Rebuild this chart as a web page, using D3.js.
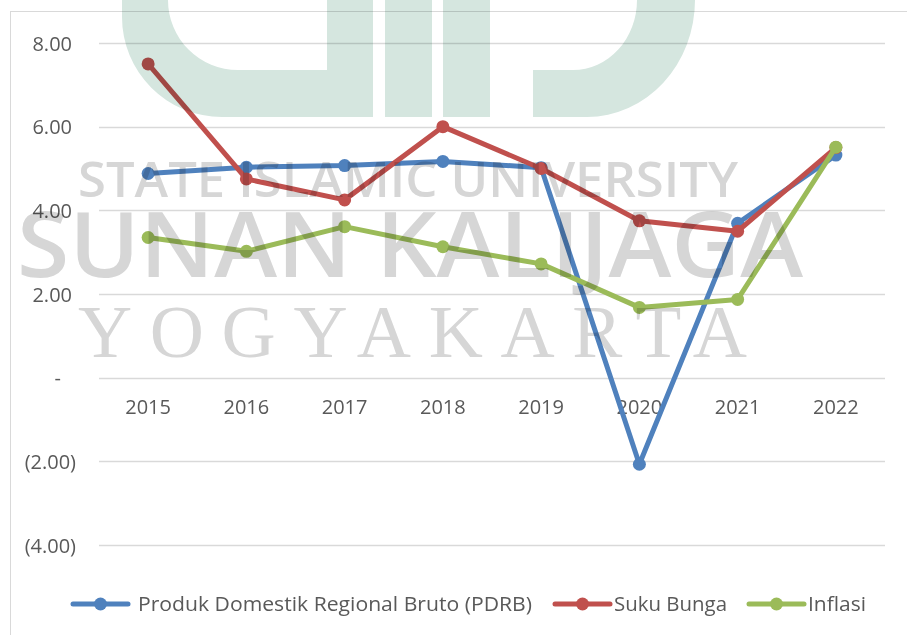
<!DOCTYPE html>
<html>
<head>
<meta charset="utf-8">
<script src="https://cdn.jsdelivr.net/npm/d3@7"></script>
<style>
  body { margin: 0; background: #fff; }
  svg { display: block; }
  .tick text { fill: #595959; font-family: "Open Sans", sans-serif; font-size: 20px; }
  .wm { mix-blend-mode: multiply; }
</style>
</head>
<body>
<div id="chart"></div>
<script>
// data
const years = ["2015", "2016", "2017", "2018", "2019", "2020", "2021", "2022"];
const pdrb = [4.88, 5.03, 5.07, 5.17, 5.02, -2.07, 3.69, 5.32];
const sukuBunga = [7.50, 4.75, 4.25, 6.00, 5.00, 3.75, 3.50, 5.50];
const inflasi = [3.35, 3.02, 3.61, 3.13, 2.72, 1.68, 1.87, 5.51];
const yTicks = [-4, -2, 0, 2, 4, 6, 8];
const seriesNames = ["Produk Domestik Regional  Bruto (PDRB)", "Suku Bunga", "Inflasi"];

const W = 907, H = 635;
const colors = ["#4f81bd", "#c0504d", "#9bbb59"];
const seriesData = [pdrb, sukuBunga, inflasi];

const svg = d3.select("#chart").append("svg")
    .attr("width", W)
    .attr("height", H);

// chart frame (cut off by picture edge on right and bottom)
svg.append("rect")
    .attr("x", 10.5).attr("y", 11.5)
    .attr("width", 1000).attr("height", 1000)
    .attr("fill", "none")
    .attr("stroke", "#d9d9d9");

// scales
const x = d3.scaleBand()
    .domain(years)
    .range([99, 885]);

const y = d3.scaleLinear()
    .domain([-4, 8])
    .range([545, 43]);

// gridlines
svg.append("g")
    .selectAll("line")
    .data(yTicks)
    .join("line")
    .attr("x1", 99).attr("x2", 885)
    .attr("y1", d => Math.round(y(d)) + 0.5)
    .attr("y2", d => Math.round(y(d)) + 0.5)
    .attr("stroke", "#d9d9d9")
    .attr("stroke-width", 1.5);

// y axis, accounting style labels
const fmt = d => d === 0 ? "-" : d < 0 ? "(" + d3.format(".2f")(-d) + ")" : d3.format(".2f")(d);
const yAxis = svg.append("g")
    .attr("transform", "translate(76,0)")
    .call(d3.axisLeft(y).tickValues(yTicks).tickFormat(fmt).tickSize(0).tickPadding(0));
yAxis.select(".domain").remove();
yAxis.selectAll(".tick text")
    .attr("dy", "0.35em")
    .attr("x", d => d > 0 ? -4 : d === 0 ? -15 : 0);

// x axis labels at the zero line
const xAxis = svg.append("g")
    .attr("transform", `translate(0, ${y(0)})`)
    .call(d3.axisBottom(x).tickSize(0).tickPadding(22));
xAxis.select(".domain").remove();

// lines and markers
const line = d3.line()
    .x((d, i) => x(years[i]) + x.bandwidth() / 2)
    .y(d => y(d));

seriesData.forEach((vals, k) => {
    const g = svg.append("g");
    g.append("path")
        .datum(vals)
        .attr("d", line)
        .attr("fill", "none")
        .attr("stroke", colors[k])
        .attr("stroke-width", 5)
        .attr("stroke-linejoin", "round")
        .attr("stroke-linecap", "round");
    g.selectAll("circle")
        .data(vals)
        .join("circle")
        .attr("cx", (d, i) => x(years[i]) + x.bandwidth() / 2)
        .attr("cy", d => y(d))
        .attr("r", 6.5)
        .attr("fill", colors[k]);
});

// legend
const legendItems = [
    {x0: 73, tx: 138, tw: 394},
    {x0: 555, tx: 614, tw: 113},
    {x0: 749, tx: 808, tw: 58}
];
const legend = svg.append("g").attr("transform", "translate(0,604)");
legendItems.forEach((it, k) => {
    legend.append("line")
        .attr("x1", it.x0).attr("x2", it.x0 + 55)
        .attr("stroke", colors[k])
        .attr("stroke-width", 5)
        .attr("stroke-linecap", "round");
    legend.append("circle")
        .attr("cx", it.x0 + 27.5)
        .attr("r", 6.5)
        .attr("fill", colors[k]);
    legend.append("text")
        .attr("x", it.tx)
        .attr("dy", "0.35em")
        .attr("textLength", it.tw)
        .attr("lengthAdjust", "spacingAndGlyphs")
        .style("font-family", "'Open Sans', sans-serif")
        .style("font-size", "20px")
        .style("fill", "#595959")
        .text(seriesNames[k]);
});

// watermark overlay
const wm = svg.append("g").attr("class", "wm");
const logo = wm.append("g").attr("fill", "#d5e6df");
logo.append("path")
    .attr("d", "M122,-10 L122,17 A100,100 0 0 0 222,117 L373,117 L373,-10 L327,-10 L327,70 L238,70 A70,70 0 0 1 168,0 L168,-10 Z");
logo.append("rect").attr("x", 385).attr("y", -10).attr("width", 47).attr("height", 127);
logo.append("rect").attr("x", 443).attr("y", -10).attr("width", 47).attr("height", 127);
logo.append("path")
    .attr("d", "M533,70 L573,70 A64,70 0 0 0 637,0 L637,-10 L695,-10 L695,0 A108,117 0 0 1 587,117 L533,117 Z");

wm.append("text")
    .attr("x", 78).attr("y", 197)
    .attr("textLength", 660)
    .attr("lengthAdjust", "spacingAndGlyphs")
    .style("font-family", "'Open Sans', sans-serif")
    .style("font-weight", 600)
    .style("font-size", "48px")
    .style("fill", "#d6d6d6")
    .text("STATE ISLAMIC UNIVERSITY");

wm.append("text")
    .attr("x", 17).attr("y", 277)
    .attr("textLength", 786)
    .attr("lengthAdjust", "spacingAndGlyphs")
    .style("font-family", "'Open Sans', sans-serif")
    .style("font-weight", 600)
    .style("font-size", "90px")
    .style("fill", "#d6d6d6")
    .text("SUNAN KALIJAGA");

wm.append("text")
    .attr("x", 78).attr("y", 357)
    .attr("textLength", 669)
    .attr("lengthAdjust", "spacing")
    .style("font-family", "'Liberation Serif', serif")
    .style("font-size", "75px")
    .style("fill", "#d6d6d6")
    .text("YOGYAKARTA");
</script>
</body>
</html>
